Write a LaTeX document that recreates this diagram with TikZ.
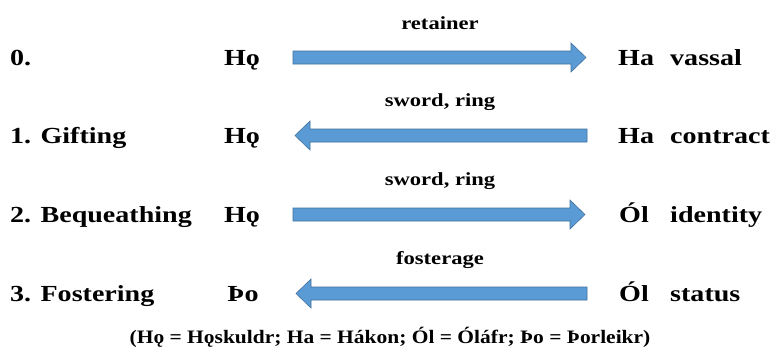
\documentclass[tikz,border=0pt]{standalone}
\usepackage{fontspec}
\setmainfont{Liberation Serif}
\newfontfamily\rowfont[FakeStretch=1.22]{Liberation Serif}
\newfontfamily\notefont[FakeStretch=1.13]{Liberation Serif}
\usetikzlibrary{calc}

\definecolor{arrowfill}{HTML}{5B9BD5}
\definecolor{arrowedge}{HTML}{41719C}

\tikzset{
  item/.style={inner sep=0pt, font=\rowfont\fontsize{23}{23}\bfseries\selectfont},
  flow/.style={inner sep=0pt, anchor=base, font=\rowfont\fontsize{18.5}{18.5}\bfseries\selectfont},
  note/.style={inner sep=0pt, anchor=base, font=\notefont\fontsize{19}{19}\bfseries\selectfont},
  fatarrow/.style={fill=arrowfill, draw=arrowedge, line width=0.6pt, line join=miter},
}

% block arrow from tail #1 to tip #2
\newcommand{\fatarrow}[2]{%
  \filldraw[fatarrow]
    ($(#1)+(0,6.5)$) --
    ($(#2)!15pt!(#1)+(0,6.5)$) --
    ($(#2)!15pt!(#1)+(0,14.5)$) --
    (#2) --
    ($(#2)!15pt!(#1)+(0,-14.5)$) --
    ($(#2)!15pt!(#1)+(0,-6.5)$) --
    ($(#1)+(0,-6.5)$) -- cycle;}

\begin{document}
\begin{tikzpicture}[x=1pt, y=-1pt]
  \fill[white] (0,0) rectangle (775,349);
  \useasboundingbox (0,0) rectangle (775,349);

  % row 0
  \node[item, anchor=base west] (r0) at (10,65) {0.};
  \node[item, anchor=base] (l0) at (242,65) {Hǫ};
  \node[item, anchor=base west] (n0) at (618,65) {Ha};
  \node[item, anchor=base west] (d0) at (670,65) {vassal};
  \coordinate (t0) at (293,57.5);
  \coordinate (h0) at (586,57.5);
  \fatarrow{t0}{h0}
  \node[flow] (f0) at (440,29) {retainer};

  % row 1
  \node[item, anchor=base west] (r1) at (10,143) {1. Gifting};
  \node[item, anchor=base] (l1) at (242,143) {Hǫ};
  \node[item, anchor=base west] (n1) at (618,143) {Ha};
  \node[item, anchor=base west] (d1) at (670,143) {contract};
  \coordinate (t1) at (587,135.5);
  \coordinate (h1) at (295,135.5);
  \fatarrow{t1}{h1}
  \node[flow] (f1) at (440,106) {sword, ring};

  % row 2
  \node[item, anchor=base west] (r2) at (10,222) {2. Bequeathing};
  \node[item, anchor=base] (l2) at (242,222) {Hǫ};
  \node[item, anchor=base west] (n2) at (619,222) {Ól};
  \node[item, anchor=base west] (d2) at (670,222) {identity};
  \coordinate (t2) at (293,214.5);
  \coordinate (h2) at (585,214.5);
  \fatarrow{t2}{h2}
  \node[flow] (f2) at (440,185) {sword, ring};

  % row 3
  \node[item, anchor=base west] (r3) at (10,301) {3. Fostering};
  \node[item, anchor=base] (l3) at (243,301) {Þo};
  \node[item, anchor=base west] (n3) at (619,301) {Ól};
  \node[item, anchor=base west] (d3) at (670,301) {status};
  \coordinate (t3) at (587,293.5);
  \coordinate (h3) at (296,293.5);
  \fatarrow{t3}{h3}
  \node[flow] (f3) at (440,264) {fosterage};

  % key to the abbreviations
  \node[note] (key) at (390,343) {(Hǫ = Hǫskuldr; Ha = Hákon; Ól = Óláfr; Þo = Þorleikr)};
\end{tikzpicture}
\end{document}
